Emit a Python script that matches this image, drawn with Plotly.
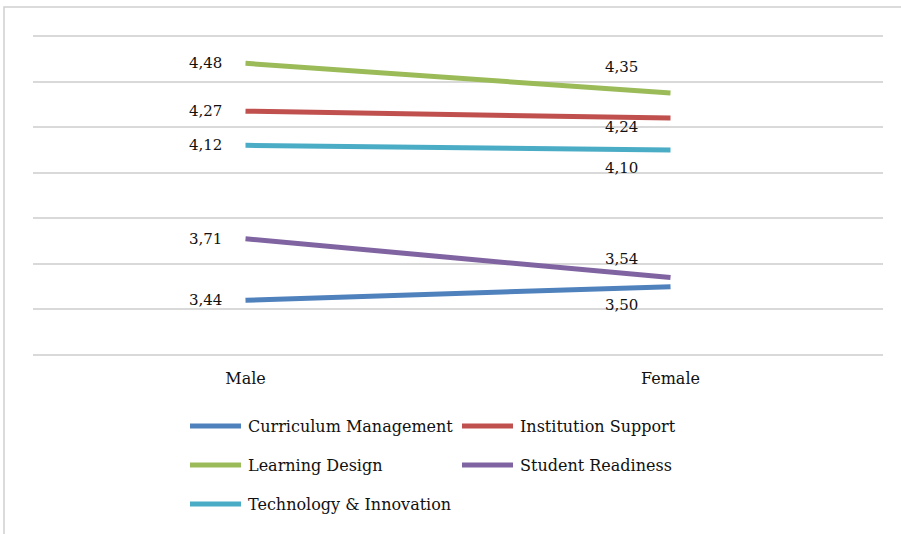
import plotly.graph_objects as go

categories = ["Male", "Female"]
series_names = ["Curriculum Management", "Institution Support", "Learning Design",
                "Student Readiness", "Technology & Innovation"]
curriculum_management = [3.44, 3.50]
institution_support = [4.27, 4.24]
learning_design = [4.48, 4.35]
student_readiness = [3.71, 3.54]
technology_innovation = [4.12, 4.10]

series_values = [curriculum_management, institution_support, learning_design,
                 student_readiness, technology_innovation]
colors = ["#4F81BD", "#C0504D", "#9BBB59", "#8064A2", "#4BACC6"]

# label offsets (px) for the Female point labels: (xshift, yshift)
female_offsets = [(-49, -18), (-49, -9), (-49, 26), (-49, 19), (-49, -18)]

W, H = 901, 534
PAD = 11  # extra px above/below the outer gridlines so they get drawn
L, R, T, B = 33, 18, 36 - PAD, 179 - PAD
FONT = "DejaVu Serif"
TXT = "#111111"

ymin, ymax = 3.2, 4.6
scale = 319 / (ymax - ymin)
yrange = [ymin - PAD / scale, ymax + PAD / scale]

fig = go.Figure()
for name, vals, col in zip(series_names, series_values, colors):
    fig.add_trace(go.Scatter(x=categories, y=vals, mode="lines", name=name,
                             line=dict(color=col, width=5), showlegend=False))

annotations = []
for i, vals in enumerate(series_values):
    annotations.append(dict(x=categories[0], y=vals[0], xref="x", yref="y",
                            text=f"{vals[0]:.2f}".replace(".", ","), showarrow=False,
                            xanchor="right", yanchor="middle", xshift=-22,
                            font=dict(family=FONT, size=15, color=TXT)))
    dx, dy = female_offsets[i]
    annotations.append(dict(x=categories[1], y=vals[1], xref="x", yref="y",
                            text=f"{vals[1]:.2f}".replace(".", ","), showarrow=False,
                            xanchor="center", yanchor="middle", xshift=dx, yshift=dy,
                            font=dict(family=FONT, size=15, color=TXT)))

pw = W - L - R
ph = H - T - B
def px2x(p):
    return (p - L) / pw
def py2y(p):
    return (H - B - p) / ph

shapes = []
# outer chart border
shapes.append(dict(type="rect", xref="paper", yref="paper",
                   x0=px2x(4), x1=px2x(910), y0=py2y(545), y1=py2y(7),
                   line=dict(color="#D0D0D0", width=1.5), fillcolor="rgba(0,0,0,0)",
                   layer="below"))

# custom legend (2 columns)
legend_cols = [188, 460]
legend_rows = [426, 465, 504]
for i, (name, col) in enumerate(zip(series_names, colors)):
    cx = legend_cols[i % 2]
    cy = legend_rows[i // 2]
    shapes.append(dict(type="line", xref="paper", yref="paper",
                       x0=px2x(cx + 2), x1=px2x(cx + 53), y0=py2y(cy), y1=py2y(cy),
                       line=dict(color=col, width=5)))
    annotations.append(dict(x=px2x(cx + 58), y=py2y(cy), xref="paper", yref="paper",
                            text=name, showarrow=False, xanchor="left", yanchor="middle",
                            font=dict(family=FONT, size=16, color=TXT)))

fig.update_layout(
    width=W, height=H,
    margin=dict(l=L, r=R, t=T, b=B),
    paper_bgcolor="white", plot_bgcolor="white",
    showlegend=False,
    xaxis=dict(type="category", range=[-0.5, 1.5], showgrid=False, zeroline=False,
               showline=False, ticks="", ticklabelstandoff=1,
               tickfont=dict(family=FONT, size=16, color=TXT)),
    yaxis=dict(range=yrange, dtick=0.2, tick0=3.2, showgrid=True,
               gridcolor="#D9D9D9", gridwidth=1.5, zeroline=False,
               showticklabels=False, showline=False, ticks=""),
    annotations=annotations,
    shapes=shapes,
)

fig.write_html("out.html", config={"displayModeBar": False},
               post_script="document.body.style.margin='0px';")
